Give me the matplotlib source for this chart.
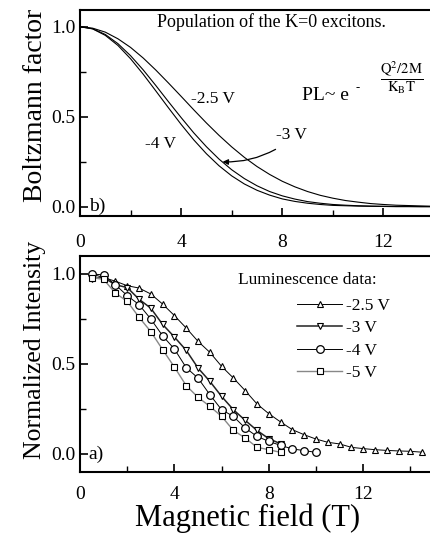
import matplotlib.pyplot as plt
import numpy as np

plt.rcParams['font.family'] = 'Liberation Serif'
plt.rcParams['mathtext.fontset'] = 'stix'

# b) Boltzmann factor curves
field_calc = [0, 0.5, 1, 1.5, 2, 2.5, 3, 3.5, 4, 4.5, 5, 5.5, 6, 6.5, 7, 7.5, 8, 8.5, 9, 9.5,
              10, 10.5, 11, 11.5, 12, 12.5, 13, 13.5, 14]
boltz_25 = [1.0, 0.992, 0.970, 0.933, 0.885, 0.826, 0.759, 0.687, 0.613, 0.538, 0.465, 0.396,
            0.332, 0.274, 0.223, 0.179, 0.141, 0.110, 0.084, 0.063, 0.047, 0.034, 0.025, 0.017,
            0.012, 0.008, 0.006, 0.004, 0.002]
boltz_3 = [1.0, 0.989, 0.957, 0.906, 0.839, 0.760, 0.673, 0.583, 0.495, 0.410, 0.333, 0.264,
           0.205, 0.156, 0.116, 0.084, 0.060, 0.042, 0.028, 0.019, 0.012, 0.008, 0.005, 0.003,
           0.002, 0.001, 0.001, 0.0, 0.0]
boltz_4 = [1.0, 0.988, 0.952, 0.896, 0.822, 0.736, 0.643, 0.549, 0.457, 0.371, 0.294, 0.227,
           0.171, 0.126, 0.091, 0.064, 0.043, 0.029, 0.019, 0.012, 0.007, 0.005, 0.003, 0.002,
           0.001, 0.0, 0.0, 0.0, 0.0]

# a) luminescence data
field_25 = [0.5, 1, 1.5, 2, 2.5, 3, 3.5, 4, 4.5, 5, 5.5, 6, 6.5, 7, 7.5, 8, 8.5, 9, 9.5, 10,
            10.5, 11, 11.5, 12, 12.5, 13, 13.5, 14, 14.5]
lum_25 = [1.0, 0.98, 0.96, 0.935, 0.922, 0.889, 0.833, 0.769, 0.70, 0.626, 0.565, 0.487, 0.422,
          0.352, 0.278, 0.224, 0.178, 0.135, 0.107, 0.083, 0.065, 0.056, 0.037, 0.030, 0.024,
          0.020, 0.017, 0.015, 0.010]
field_3 = [0.5, 1, 1.5, 2, 2.5, 3, 3.5, 4, 4.5, 5, 5.5, 6, 6.5, 7, 7.5, 8, 8.5]
lum_3 = [0.975, 0.98, 0.94, 0.925, 0.86, 0.81, 0.72, 0.65, 0.576, 0.478, 0.404, 0.32, 0.246,
         0.187, 0.131, 0.085, 0.057]
field_4 = [0.5, 1, 1.5, 2, 2.5, 3, 3.5, 4, 4.5, 5, 5.5, 6, 6.5, 7, 7.5, 8, 8.5, 9, 9.5, 10]
lum_4 = [1.0, 0.995, 0.94, 0.88, 0.83, 0.75, 0.657, 0.583, 0.48, 0.422, 0.33, 0.246, 0.209,
         0.144, 0.098, 0.07, 0.048, 0.028, 0.019, 0.009]
field_5 = [0.5, 1, 1.5, 2, 2.5, 3, 3.5, 4, 4.5, 5, 5.5, 6, 6.5, 7, 7.5, 8, 8.5]
lum_5 = [0.98, 0.97, 0.894, 0.848, 0.76, 0.68, 0.58, 0.483, 0.38, 0.315, 0.265, 0.209, 0.131,
         0.089, 0.037, 0.024, 0.009]

fig = plt.figure(figsize=(4.3, 5.33), dpi=100)
ax_b = fig.add_axes([80 / 430, 317 / 533, 354 / 430, 206 / 533])
ax_a = fig.add_axes([80 / 430, 61 / 533, 354 / 430, 216 / 533])

for ax in (ax_b, ax_a):
    for s in ax.spines.values():
        s.set_linewidth(1.5)
    ax.set_xticks([0, 4, 8, 12])
    ax.set_xticks([2, 6, 10, 14], minor=True)
    ax.set_yticks([0.0, 0.5, 1.0])
    ax.set_yticks([0.25, 0.75], minor=True)
    ax.set_yticklabels(['0.0', '0.5', '1.0'])
    ax.tick_params(which='major', direction='in', length=6, width=1.2, labelsize=14, pad=3)
    ax.tick_params(which='minor', direction='in', length=4, width=1.0)

# panel b
ax_b.plot(field_calc, boltz_25, color='black', lw=0.8)
ax_b.plot(field_calc, boltz_3, color='black', lw=0.8)
ax_b.plot(field_calc, boltz_4, color='black', lw=0.8)
ax_b.set_xlim(0, 14)
ax_b.set_ylim(-0.052, 1.093)
ax_b.tick_params(axis='x', which='major', pad=13)
ax_b.set_ylabel('Boltzmann factor', fontsize=20, va='center')
ax_b.yaxis.set_label_coords(-0.127, 0.539)
ax_b.text(7.59, 1.025, 'Population of the K=0 excitons.', fontsize=13, ha='center', va='center')
ax_b.text(5.27, 0.60, '-2.5 V', fontsize=12.5, ha='center', va='center')
ax_b.text(3.2, 0.348, '-4 V', fontsize=12.5, ha='center', va='center')
ax_b.text(8.38, 0.398, '-3 V', fontsize=12.5, ha='center', va='center')
ax_b.annotate('', xy=(5.53, 0.25), xytext=(7.83, 0.326),
              arrowprops=dict(arrowstyle='-|>', connectionstyle='arc3,rad=-0.15',
                              color='black', lw=0.9, mutation_scale=8))
ax_b.text(0.35, 0.0, 'b)', fontsize=14, ha='left', va='center')
ax_b.text(8.77, 0.593, 'PL~ e', fontsize=14, ha='left', va='baseline')
ax_b.text(10.99, 0.66, '-', fontsize=9, ha='center', va='center')
ax_b.text(12.73, 0.715, r'$\dfrac{\mathrm{Q^2/2M}}{\mathrm{K_BT}}$', fontsize=10.5,
          ha='center', va='center')

# panel a
ax_a.plot(field_25, lum_25, color='black', lw=0.7, marker='^', ms=4.5,
          mfc='white', mec='black', mew=0.8, label='-2.5 V')
ax_a.plot(field_3, lum_3, color='#222222', lw=1.1, marker='v', ms=4.5,
          mfc='white', mec='black', mew=0.8, label='-3 V')
ax_a.plot(field_4, lum_4, color='black', lw=0.7, marker='o', ms=5.5,
          mfc='white', mec='black', mew=0.9, label='-4 V')
ax_a.plot(field_5, lum_5, color='#888888', lw=1.0, marker='s', ms=4,
          mfc='white', mec='black', mew=0.8, label='-5 V')
ax_a.set_xlim(0, 15)
ax_a.set_ylim(-0.1, 1.1)
ax_a.tick_params(axis='x', which='major', pad=10)
ax_a.set_ylabel('Normalized Intensity', fontsize=18.5, va='center')
ax_a.yaxis.set_label_coords(-0.127, 0.565)
ax_a.set_xlabel('Magnetic field (T)', fontsize=22, va='center')
ax_a.xaxis.set_label_coords(0.473, -0.213)
ax_a.text(0.35, 0.0, 'a)', fontsize=14, ha='left', va='center')
ax_a.text(6.69, 0.968, 'Luminescence data:', fontsize=12.5, ha='left', va='center')
ax_a.legend(loc='upper left', bbox_to_anchor=(297 / 430, 235 / 533),
            bbox_transform=fig.transFigure, frameon=False, fontsize=12.5,
            handlelength=2.6, handletextpad=0.2, labelspacing=0.35,
            borderpad=0, borderaxespad=0, numpoints=1)

fig.savefig('out.png', dpi=100)
